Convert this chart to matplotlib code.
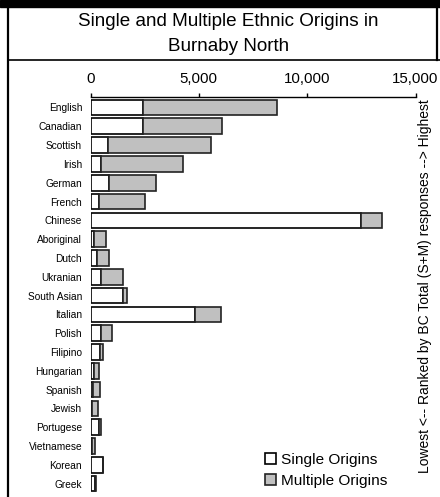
import matplotlib
matplotlib.use("Agg")
import matplotlib.pyplot as plt
from matplotlib.ticker import FuncFormatter
from matplotlib.lines import Line2D
from matplotlib.patches import Rectangle
import numpy as np

plt.rcParams['font.family'] = ['Liberation Sans', 'DejaVu Sans']

########################################
#               Data                   #
########################################

origins = ["English", "Canadian", "Scottish", "Irish", "German", "French",
           "Chinese", "Aboriginal", "Dutch", "Ukranian", "South Asian",
           "Italian", "Polish", "Filipino", "Hungarian", "Spanish", "Jewish",
           "Portugese", "Vietnamese", "Korean", "Greek"]

# Burnaby North, single responses and single + multiple totals
single = [2400, 2420, 810, 500, 870, 410,
          12500, 160, 290, 500, 1490,
          4800, 500, 450, 175, 120, 60,
          390, 60, 560, 210]
total = [8630, 6050, 5570, 4250, 3020, 2500,
         13450, 720, 870, 1510, 1700,
         6000, 990, 590, 380, 440, 330,
         500, 220, 590, 250]

multiple = [t - s for s, t in zip(single, total)]
x_ticks = [0, 5000, 10000, 15000]

title_lines = ["Single and Multiple Ethnic Origins in", "Burnaby North"]
side_label = "Lowest <-- Ranked by BC Total (S+M) responses --> Highest"

########################################
#               Figure                 #
########################################

W, H = 440, 497
fig = plt.figure(figsize=(W / 100, H / 100), dpi=100)

# frame pieces (title box and left border)
fig.patches.append(Rectangle((0, 1 - 6.5 / H), 1, 6.5 / H, transform=fig.transFigure,
                             color='black', zorder=0))
fig.lines.append(Line2D([7.5 / W, 7.5 / W], [0, 1], transform=fig.transFigure,
                        color='black', lw=1.6))
fig.lines.append(Line2D([7.5 / W, 1], [1 - 59.5 / H, 1 - 59.5 / H],
                        transform=fig.transFigure, color='black', lw=1.2))
fig.lines.append(Line2D([436.5 / W, 436.5 / W], [1 - 59.5 / H, 1],
                        transform=fig.transFigure, color='black', lw=1.6))

fig.text(228.5 / W, 1 - 21.5 / H, title_lines[0], ha='center', va='center', fontsize=13.6)
fig.text(228.5 / W, 1 - 46.5 / H, title_lines[1], ha='center', va='center', fontsize=13.6)

ax = fig.add_axes([90.5 / W, 1 - 493 / H, 325 / W, 396 / H])

y = np.arange(len(origins))
b1 = ax.barh(y, single, height=0.83, color='white', edgecolor='black',
             linewidth=1.2, label='Single Origins')
b2 = ax.barh(y, multiple, left=single, height=0.83, color='#c0c0c0',
             edgecolor='#222222', linewidth=1.2, label='Multiple Origins')

ax.set_xlim(0, 15000)
ax.set_ylim(len(origins) - 0.5, -0.557)
ax.set_yticks(y)
ax.set_yticklabels(origins, fontsize=7.3)
ax.set_xticks(x_ticks)
ax.xaxis.set_major_formatter(FuncFormatter(lambda v, p: f"{v:,.0f}"))

ax.xaxis.tick_top()
ax.tick_params(axis='x', direction='out', length=3, width=1, pad=5, labelsize=10.8)
ax.tick_params(axis='y', length=0, pad=6)
for side in ['left', 'right', 'bottom']:
    ax.spines[side].set_visible(False)
ax.spines['top'].set_linewidth(1)

ax.legend(handles=[b1, b2], loc='center left',
          bbox_to_anchor=(265 / W, 1 - 470.5 / H), bbox_transform=fig.transFigure,
          frameon=False, fontsize=11.1, handlelength=0.7, handleheight=0.7,
          handletextpad=0.35, labelspacing=0.45, borderpad=0, borderaxespad=0)

fig.text(425 / W, 1 - 286 / H, side_label, rotation=90, ha='center', va='center',
         fontsize=10)

fig.savefig("out.png", dpi=100)
